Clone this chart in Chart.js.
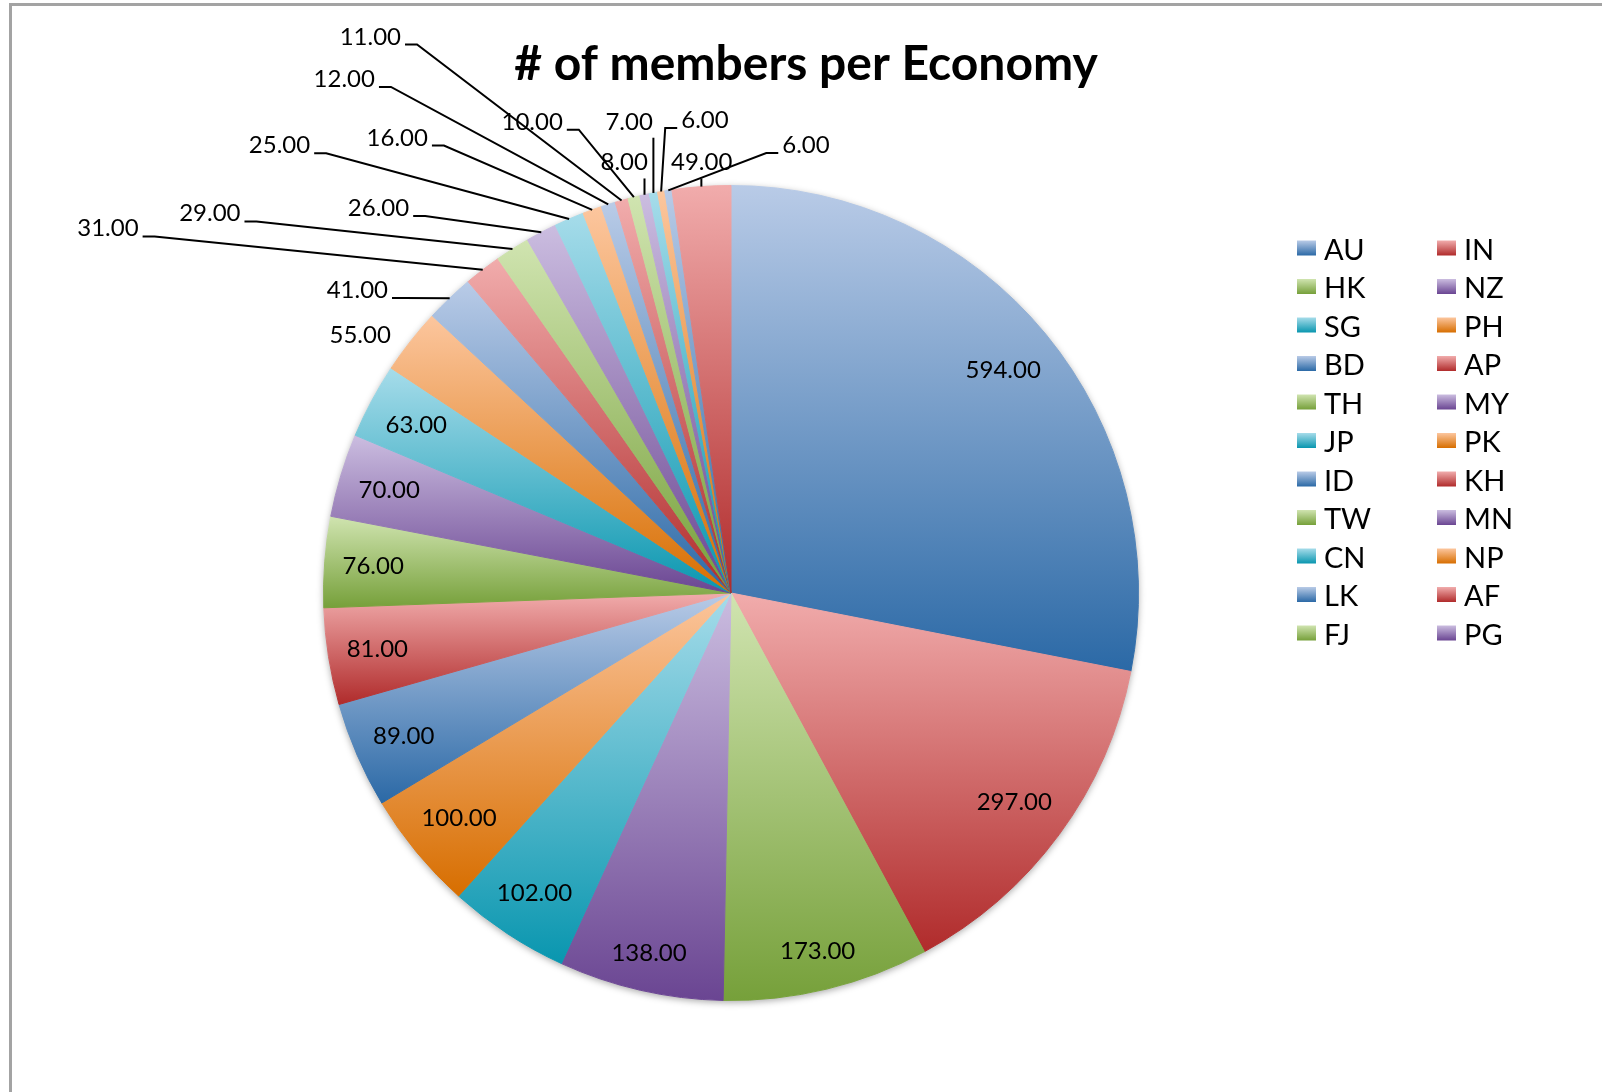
<!DOCTYPE html>
<html>
<head>
<meta charset="utf-8">
<title># of members per Economy</title>
<script src="https://cdn.jsdelivr.net/npm/chart.js@4.4.1/dist/chart.umd.min.js"></script>
<style>
  html, body { margin: 0; padding: 0; background: #fff; }
  #wrap { width: 1602px; height: 1092px; }
</style>
</head>
<body>
<div id="wrap"><canvas id="chart" width="1602" height="1092"></canvas></div>
<script>
// slices, clockwise from 12 o'clock
const economies = ["AU", "IN", "HK", "NZ", "SG", "PH", "BD", "AP", "TH", "MY", "JP",
  "PK", "ID", "KH", "TW", "MN", "CN", "NP", "LK", "AF", "FJ", "PG",
  "other 1", "other 2", "other 3", "other 4"];
const members = [594, 297, 173, 138, 102, 100, 89, 81, 76, 70, 63,
  55, 41, 31, 29, 26, 25, 16, 12, 11, 10, 8,
  7, 6, 6, 49];

const legendCount = 22;   // the legend in the original stops at PG
const insideCount = 11;   // first 11 slices carry their label inside

// where the small labels sit, in pie radii from the centre
const outsideLabelAt = {
  11: [-0.910, -0.634], 12: [-0.917, -0.745], 13: [-1.529, -0.896],
  14: [-1.279, -0.933], 15: [-0.865, -0.946], 16: [-1.108, -1.100],
  17: [-0.819, -1.119], 18: [-0.949, -1.263], 19: [-0.885, -1.367],
  20: [-0.488, -1.158], 21: [-0.262, -1.058], 22: [-0.250, -1.158],
  23: [-0.064, -1.162], 24: [0.184, -1.101], 25: [-0.072, -1.058]
};

// excel-ish gradient pairs (light top, dark bottom)
const palette = [
  ["#b9cbe7", "#2b69a6"],
  ["#f1acac", "#b02b2b"],
  ["#d0e4b0", "#76a03a"],
  ["#cbbde0", "#6a4592"],
  ["#a6dcea", "#0996af"],
  ["#fcc69e", "#d76e00"]
];

const FONT = "Lato, 'Open Sans', sans-serif";

function sliceFill(c) {
  const chart = c.chart;
  const area = chart.chartArea;
  const pair = palette[c.dataIndex % palette.length];
  if (!area) return pair[1];
  const cx = (area.left + area.right) / 2;
  const cy = (area.top + area.bottom) / 2;
  const r = (Math.min(area.width, area.height) - 1) / 2;
  const vals = chart.data.datasets[0].data;
  const total = vals.reduce((a, b) => a + b, 0);
  let before = 0;
  for (let i = 0; i < c.dataIndex; i++) before += vals[i];
  const a0 = -Math.PI / 2 + 2 * Math.PI * before / total;
  const a1 = a0 + 2 * Math.PI * vals[c.dataIndex] / total;
  const ys = [cy, cy + r * Math.sin(a0), cy + r * Math.sin(a1)];
  // top / bottom of the circle inside this slice?
  [-Math.PI / 2, Math.PI / 2, 3 * Math.PI / 2].forEach(a => {
    if (a > a0 && a < a1) ys.push(cy + r * Math.sin(a));
  });
  const g = chart.ctx.createLinearGradient(0, Math.min(...ys), 0, Math.max(...ys));
  g.addColorStop(0, pair[0]);
  g.addColorStop(1, pair[1]);
  return g;
}

const excelDecor = {
  id: "excelDecor",
  beforeDraw(chart) {
    const ctx = chart.ctx;
    ctx.save();
    ctx.strokeStyle = "#a3a3a3";
    ctx.lineWidth = 3;
    ctx.beginPath();
    ctx.moveTo(chart.width, 4.5);
    ctx.lineTo(10.5, 4.5);
    ctx.lineTo(10.5, chart.height);
    ctx.stroke();
    ctx.restore();
  },
  beforeDatasetsDraw(chart) {
    const arc = chart.getDatasetMeta(0).data[0];
    if (!arc) return;
    const ctx = chart.ctx;
    ctx.save();
    ctx.shadowColor = "rgba(0,0,0,0.35)";
    ctx.shadowBlur = 7;
    ctx.shadowOffsetY = 2;
    ctx.fillStyle = "#fff";
    ctx.beginPath();
    ctx.arc(arc.x, arc.y, arc.outerRadius, 0, Math.PI * 2);
    ctx.fill();
    ctx.restore();
  },
  afterDatasetsDraw(chart) {
    const ctx = chart.ctx;
    const arcs = chart.getDatasetMeta(0).data;
    ctx.save();
    ctx.font = "24px " + FONT;
    ctx.fillStyle = "#000";
    ctx.strokeStyle = "#000";
    ctx.lineWidth = 2;
    ctx.textBaseline = "alphabetic";
    ctx.textAlign = "center";
    const half = 8.6; // half the digit height
    arcs.forEach((arc, i) => {
      const { x, y, startAngle, endAngle, outerRadius } = arc;
      const mid = (startAngle + endAngle) / 2;
      const ux = Math.cos(mid), uy = Math.sin(mid);
      const text = members[i].toFixed(2);
      const w = ctx.measureText(text).width;
      let lx, ly;
      if (i < insideCount) {
        const ext = Math.abs(ux) * w / 2 + Math.abs(uy) * 14;
        const d = outerRadius - 17 - ext;
        lx = x + ux * d;
        ly = y + uy * d;
      } else {
        const p = outsideLabelAt[i];
        lx = x + p[0] * outerRadius;
        ly = y + p[1] * outerRadius;
        const ax = x + ux * outerRadius, ay = y + uy * outerRadius;
        ctx.beginPath();
        if (Math.abs(ax - lx) <= w / 2 + 3) {
          ctx.moveTo(ax, ly + half + 8);
          ctx.lineTo(ax, ay);
        } else {
          const side = ax > lx ? 1 : -1;
          const sx = lx + side * (w / 2 + 4);
          const ex = sx + side * 12;
          const sy = ly + half;
          if (Math.hypot(ax - ex, ay - sy) > 30) {
            ctx.moveTo(sx, sy);
            ctx.lineTo(ex, sy);
            ctx.lineTo(ax, ay);
          }
        }
        ctx.stroke();
      }
      ctx.fillText(text, lx, ly + half);
    });
    ctx.restore();
  },
  afterDraw(chart) {
    const ctx = chart.ctx;
    ctx.save();
    // title
    ctx.fillStyle = "#000";
    ctx.font = "bold 48px " + FONT;
    ctx.textAlign = "center";
    ctx.textBaseline = "alphabetic";
    ctx.fillText("# of members per Economy", 806, 80);

    // legend, two columns, row by row
    ctx.font = "29px " + FONT;
    ctx.textAlign = "left";
    const cols = [1297, 1437];
    for (let i = 0; i < legendCount; i++) {
      const col = i % 2, row = Math.floor(i / 2);
      const base = 259.5 + row * 38.5;
      const bx = cols[col], by = base - 19;
      const pair = palette[i % palette.length];
      const g = ctx.createLinearGradient(0, by, 0, by + 15);
      g.addColorStop(0, pair[0]);
      g.addColorStop(1, pair[1]);
      ctx.fillStyle = g;
      ctx.fillRect(bx, by, 19, 15);
      ctx.fillStyle = "#000";
      ctx.fillText(economies[i], bx + 27, base);
    }
    ctx.restore();
  }
};

new Chart(document.getElementById("chart"), {
  type: "pie",
  data: {
    labels: economies,
    datasets: [{
      data: members,
      backgroundColor: sliceFill,
      borderColor: sliceFill,
      borderWidth: 1
    }]
  },
  options: {
    responsive: false,
    animation: false,
    devicePixelRatio: 1,
    events: [],
    layout: { padding: { left: 323, right: 463, top: 185, bottom: 91 } },
    plugins: {
      legend: { display: false },
      tooltip: { enabled: false },
      title: { display: false }
    }
  },
  plugins: [excelDecor]
});
</script>
</body>
</html>
